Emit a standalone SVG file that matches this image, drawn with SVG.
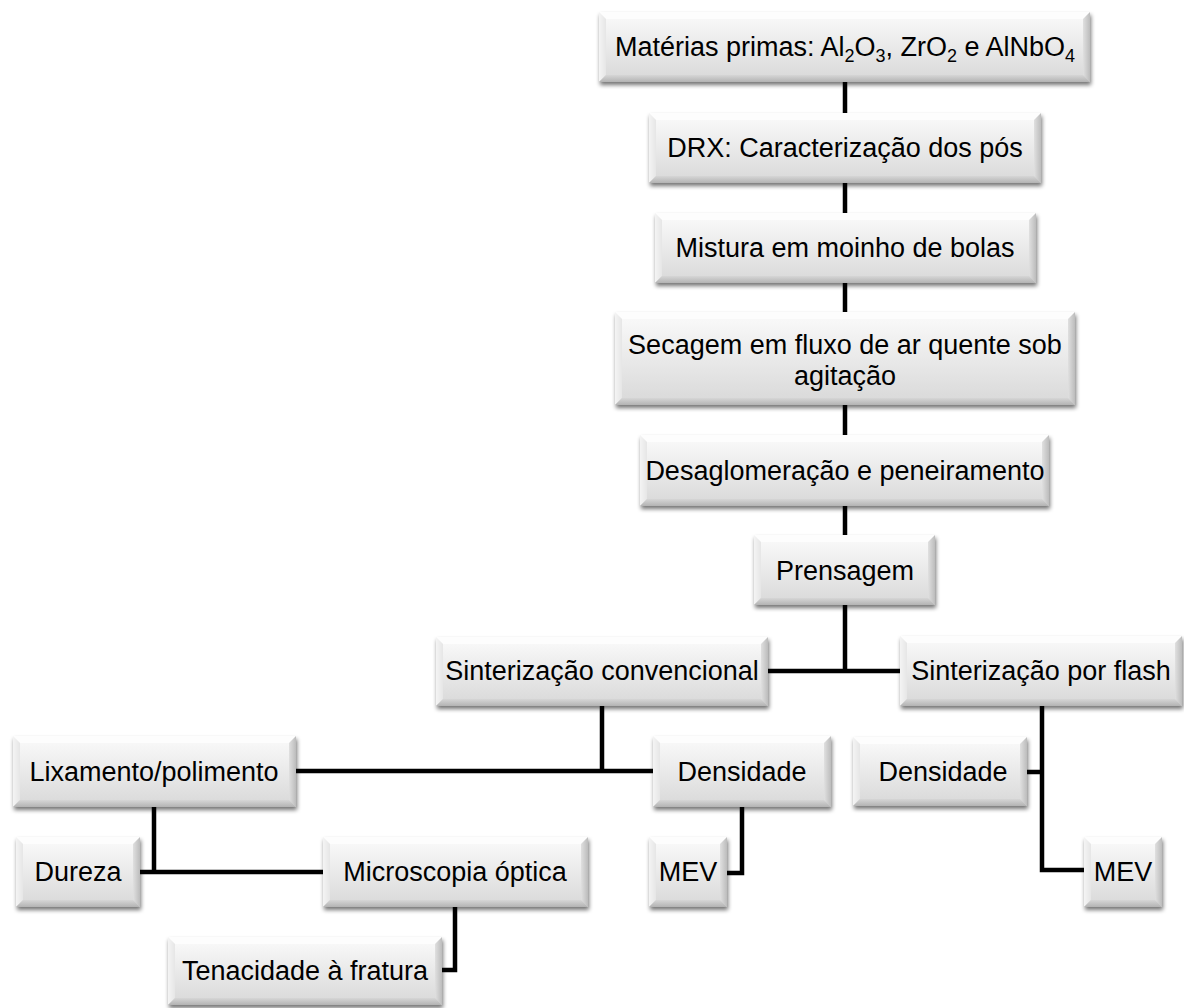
<svg xmlns="http://www.w3.org/2000/svg" width="1184" height="1008" viewBox="0 0 1184 1008">
<defs>
<linearGradient id="gFace" x1="0" y1="0" x2="0" y2="1">
<stop offset="0" stop-color="#fbfbfb"/>
<stop offset="1" stop-color="#d8d8d8"/>
</linearGradient>
<linearGradient id="gBot" x1="0" y1="0" x2="0" y2="1">
<stop offset="0" stop-color="#d6d6d6"/>
<stop offset="1" stop-color="#b3b3b3"/>
</linearGradient>
<linearGradient id="gRight" x1="0" y1="0" x2="1" y2="0">
<stop offset="0" stop-color="#e0e0e0"/>
<stop offset="1" stop-color="#bcbcbc"/>
</linearGradient>
<linearGradient id="gLeft" x1="0" y1="0" x2="1" y2="0">
<stop offset="0" stop-color="#f4f4f4"/>
<stop offset="1" stop-color="#e6e6e6"/>
</linearGradient>
<filter id="sh" x="-10%" y="-20%" width="120%" height="150%">
<feGaussianBlur in="SourceAlpha" stdDeviation="2"/>
<feOffset dx="1" dy="3" result="b"/>
<feComponentTransfer><feFuncA type="linear" slope="0.55"/></feComponentTransfer>
</filter>
</defs>
<style>
.sh{fill:#000;filter:url(#sh)}
.face{fill:url(#gFace)}
.bot{fill:url(#gBot)}
.rgt{fill:url(#gRight)}
.lft{fill:url(#gLeft)}
.top{fill:#fdfdfd}
.t{font-family:"Liberation Sans",Arial,Helvetica,sans-serif;font-size:27px;fill:#000;text-anchor:middle}
.c{fill:none;stroke:#000;stroke-width:4.5;stroke-linecap:butt;stroke-linejoin:miter}
</style>
<rect width="1184" height="1008" fill="#fff"/>

<g id="connectors">
<path class="c" d="M845,82V113M845,183V213M845,283V312M845,405V435M845,506V535M845,605V671"/>
<path class="c" d="M768,671H900"/>
<path class="c" d="M602,706V771M296,771H653"/>
<path class="c" d="M154,807V872M140,872H323"/>
<path class="c" d="M455,907V970H442"/>
<path class="c" d="M742,807V873H727"/>
<path class="c" d="M1042,706V870H1084M1027,772H1042"/>
</g>

<g id="n1">
<rect class="sh" x="599" y="12" width="491" height="70"/>
<rect class="face" x="599" y="12" width="491" height="70"/>
<polygon class="top" points="599,12 1090,12 1083,19 606,19"/>
<polygon class="lft" points="599,12 606,19 606,75 599,82"/>
<polygon class="rgt" points="1090,12 1090,82 1083,75 1083,19"/>
<polygon class="bot" points="599,82 1090,82 1083,75 606,75"/>
<text class="t" x="845" y="56">Matérias primas: Al<tspan font-size="18" dy="6">2</tspan><tspan dy="-6">O</tspan><tspan font-size="18" dy="6">3</tspan><tspan dy="-6">, ZrO</tspan><tspan font-size="18" dy="6">2</tspan><tspan dy="-6"> e AlNbO</tspan><tspan font-size="18" dy="6">4</tspan></text>
</g>

<g id="n2">
<rect class="sh" x="649" y="113" width="392" height="70"/>
<rect class="face" x="649" y="113" width="392" height="70"/>
<polygon class="top" points="649,113 1041,113 1034,120 656,120"/>
<polygon class="lft" points="649,113 656,120 656,176 649,183"/>
<polygon class="rgt" points="1041,113 1041,183 1034,176 1034,120"/>
<polygon class="bot" points="649,183 1041,183 1034,176 656,176"/>
<text class="t" x="845" y="157">DRX: Caracterização dos pós</text>
</g>

<g id="n3">
<rect class="sh" x="655" y="213" width="381" height="70"/>
<rect class="face" x="655" y="213" width="381" height="70"/>
<polygon class="top" points="655,213 1036,213 1029,220 662,220"/>
<polygon class="lft" points="655,213 662,220 662,276 655,283"/>
<polygon class="rgt" points="1036,213 1036,283 1029,276 1029,220"/>
<polygon class="bot" points="655,283 1036,283 1029,276 662,276"/>
<text class="t" x="845" y="257">Mistura em moinho de bolas</text>
</g>

<g id="n4">
<rect class="sh" x="615" y="312" width="460" height="93"/>
<rect class="face" x="615" y="312" width="460" height="93"/>
<polygon class="top" points="615,312 1075,312 1068,319 622,319"/>
<polygon class="lft" points="615,312 622,319 622,398 615,405"/>
<polygon class="rgt" points="1075,312 1075,405 1068,398 1068,319"/>
<polygon class="bot" points="615,405 1075,405 1068,398 622,398"/>
<text class="t" x="845" y="354">Secagem em fluxo de ar quente sob</text>
<text class="t" x="845" y="385">agitação</text>
</g>

<g id="n5">
<rect class="sh" x="640" y="435" width="409" height="71"/>
<rect class="face" x="640" y="435" width="409" height="71"/>
<polygon class="top" points="640,435 1049,435 1042,442 647,442"/>
<polygon class="lft" points="640,435 647,442 647,499 640,506"/>
<polygon class="rgt" points="1049,435 1049,506 1042,499 1042,442"/>
<polygon class="bot" points="640,506 1049,506 1042,499 647,499"/>
<text class="t" x="845" y="480">Desaglomeração e peneiramento</text>
</g>

<g id="n6">
<rect class="sh" x="754" y="535" width="181" height="70"/>
<rect class="face" x="754" y="535" width="181" height="70"/>
<polygon class="top" points="754,535 935,535 928,542 761,542"/>
<polygon class="lft" points="754,535 761,542 761,598 754,605"/>
<polygon class="rgt" points="935,535 935,605 928,598 928,542"/>
<polygon class="bot" points="754,605 935,605 928,598 761,598"/>
<text class="t" x="845" y="580">Prensagem</text>
</g>

<g id="n7">
<rect class="sh" x="436" y="637" width="332" height="69"/>
<rect class="face" x="436" y="637" width="332" height="69"/>
<polygon class="top" points="436,637 768,637 761,644 443,644"/>
<polygon class="lft" points="436,637 443,644 443,699 436,706"/>
<polygon class="rgt" points="768,637 768,706 761,699 761,644"/>
<polygon class="bot" points="436,706 768,706 761,699 443,699"/>
<text class="t" x="602" y="680">Sinterização convencional</text>
</g>

<g id="n8">
<rect class="sh" x="900" y="636" width="282" height="70"/>
<rect class="face" x="900" y="636" width="282" height="70"/>
<polygon class="top" points="900,636 1182,636 1175,643 907,643"/>
<polygon class="lft" points="900,636 907,643 907,699 900,706"/>
<polygon class="rgt" points="1182,636 1182,706 1175,699 1175,643"/>
<polygon class="bot" points="900,706 1182,706 1175,699 907,699"/>
<text class="t" x="1041" y="680">Sinterização por flash</text>
</g>

<g id="n9">
<rect class="sh" x="13" y="736" width="283" height="71"/>
<rect class="face" x="13" y="736" width="283" height="71"/>
<polygon class="top" points="13,736 296,736 289,743 20,743"/>
<polygon class="lft" points="13,736 20,743 20,800 13,807"/>
<polygon class="rgt" points="296,736 296,807 289,800 289,743"/>
<polygon class="bot" points="13,807 296,807 289,800 20,800"/>
<text class="t" x="154" y="781">Lixamento/polimento</text>
</g>

<g id="n10">
<rect class="sh" x="653" y="736" width="178" height="71"/>
<rect class="face" x="653" y="736" width="178" height="71"/>
<polygon class="top" points="653,736 831,736 824,743 660,743"/>
<polygon class="lft" points="653,736 660,743 660,800 653,807"/>
<polygon class="rgt" points="831,736 831,807 824,800 824,743"/>
<polygon class="bot" points="653,807 831,807 824,800 660,800"/>
<text class="t" x="742" y="781">Densidade</text>
</g>

<g id="n11">
<rect class="sh" x="853" y="737" width="174" height="69"/>
<rect class="face" x="853" y="737" width="174" height="69"/>
<polygon class="top" points="853,737 1027,737 1020,744 860,744"/>
<polygon class="lft" points="853,737 860,744 860,799 853,806"/>
<polygon class="rgt" points="1027,737 1027,806 1020,799 1020,744"/>
<polygon class="bot" points="853,806 1027,806 1020,799 860,799"/>
<text class="t" x="943" y="781">Densidade</text>
</g>

<g id="n12">
<rect class="sh" x="16" y="837" width="124" height="70"/>
<rect class="face" x="16" y="837" width="124" height="70"/>
<polygon class="top" points="16,837 140,837 133,844 23,844"/>
<polygon class="lft" points="16,837 23,844 23,900 16,907"/>
<polygon class="rgt" points="140,837 140,907 133,900 133,844"/>
<polygon class="bot" points="16,907 140,907 133,900 23,900"/>
<text class="t" x="78" y="881">Dureza</text>
</g>

<g id="n13">
<rect class="sh" x="323" y="837" width="265" height="70"/>
<rect class="face" x="323" y="837" width="265" height="70"/>
<polygon class="top" points="323,837 588,837 581,844 330,844"/>
<polygon class="lft" points="323,837 330,844 330,900 323,907"/>
<polygon class="rgt" points="588,837 588,907 581,900 581,844"/>
<polygon class="bot" points="323,907 588,907 581,900 330,900"/>
<text class="t" x="455" y="881">Microscopia óptica</text>
</g>

<g id="n14">
<rect class="sh" x="649" y="837" width="78" height="70"/>
<rect class="face" x="649" y="837" width="78" height="70"/>
<polygon class="top" points="649,837 727,837 720,844 656,844"/>
<polygon class="lft" points="649,837 656,844 656,900 649,907"/>
<polygon class="rgt" points="727,837 727,907 720,900 720,844"/>
<polygon class="bot" points="649,907 727,907 720,900 656,900"/>
<text class="t" x="688" y="881">MEV</text>
</g>

<g id="n15">
<rect class="sh" x="1084" y="837" width="78" height="70"/>
<rect class="face" x="1084" y="837" width="78" height="70"/>
<polygon class="top" points="1084,837 1162,837 1155,844 1091,844"/>
<polygon class="lft" points="1084,837 1091,844 1091,900 1084,907"/>
<polygon class="rgt" points="1162,837 1162,907 1155,900 1155,844"/>
<polygon class="bot" points="1084,907 1162,907 1155,900 1091,900"/>
<text class="t" x="1123" y="881">MEV</text>
</g>

<g id="n16">
<rect class="sh" x="168" y="937" width="274" height="68"/>
<rect class="face" x="168" y="937" width="274" height="68"/>
<polygon class="top" points="168,937 442,937 435,944 175,944"/>
<polygon class="lft" points="168,937 175,944 175,998 168,1005"/>
<polygon class="rgt" points="442,937 442,1005 435,998 435,944"/>
<polygon class="bot" points="168,1005 442,1005 435,998 175,998"/>
<text class="t" x="305" y="980">Tenacidade à fratura</text>
</g>
</svg>
